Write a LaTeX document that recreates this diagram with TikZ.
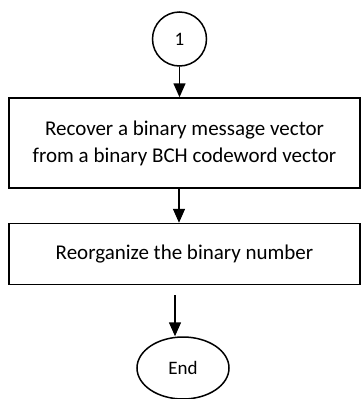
\documentclass[tikz,border=0pt]{standalone}
\usepackage{fontspec}
\setmainfont{Carlito}
\usetikzlibrary{arrows.meta,shapes.geometric}
\begin{document}
\begin{tikzpicture}[x=1pt,y=-1pt,
  line width=1.5pt,
  every node/.style={font=\fontsize{21}{27}\selectfont},
  boxst/.style={draw, rectangle, minimum width=351pt, inner sep=0pt, align=center},
  conn/.style={draw, circle, minimum size=54pt, inner sep=0pt, font=\fontsize{19}{24}\selectfont},
  term/.style={draw, ellipse, minimum width=92pt, minimum height=62pt, inner sep=0pt, font=\fontsize{19}{24}\selectfont},
  arr/.style={-{Triangle[length=14pt,width=12pt]}}]
\useasboundingbox (0,0) rectangle (361,399);
\node[conn] (c1) at (179.5,39) {1};
\node[boxst, minimum height=90pt] (b1) at (184.5,143) {Recover a binary message vector\\from a binary BCH codeword vector};
\node[boxst, minimum height=61pt] (b2) at (184.5,254) {Reorganize the binary number};
\node[term] (e) at (183,368) {End};
\coordinate (s3) at (175,295);
\draw[arr] (c1.south) -- (c1.south |- b1.north);
\draw[arr] (179,188) coordinate (a2) -- (a2 |- b2.north);
\draw[arr] (s3) -- (s3 |- e.north);
\end{tikzpicture}
\end{document}
